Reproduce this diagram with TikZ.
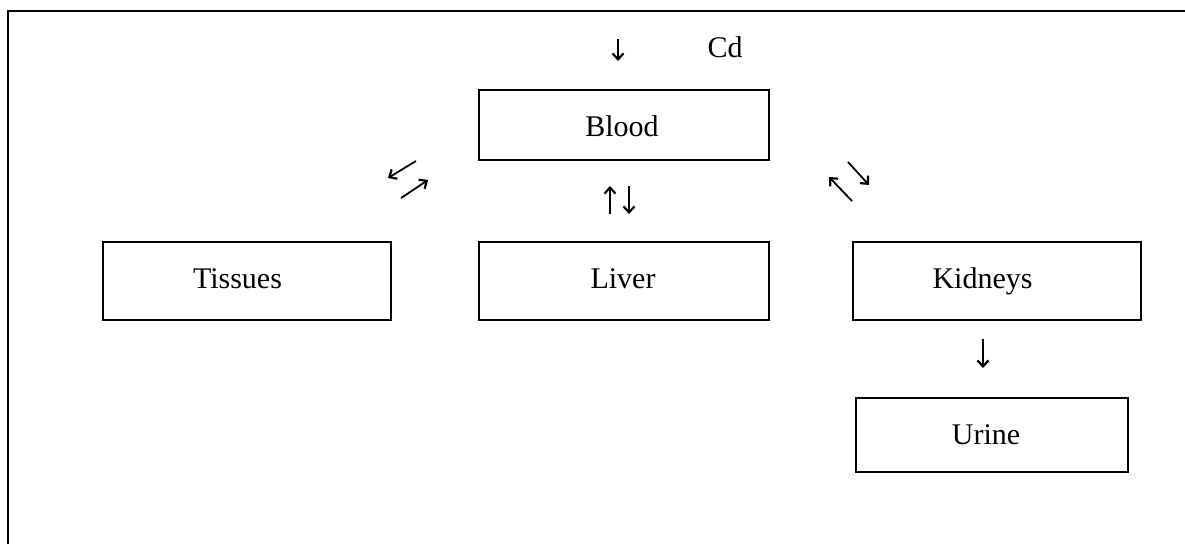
\documentclass[tikz,border=0pt]{standalone}
\usepackage{fontspec}
\setmainfont{Liberation Serif}
\usetikzlibrary{arrows.meta}
\begin{document}
\begin{tikzpicture}[x=1pt,y=-1pt,
  organ/.style={draw,line width=1.7pt,inner sep=0pt,anchor=north west},
  word/.style={inner sep=0pt,anchor=base,font=\fontsize{30}{36}\selectfont},
  flow/.style={line width=1.8pt,-{Straight Barb[length=6pt,width=11pt,line width=2.2pt]}}]
\useasboundingbox (0,0) rectangle (1185,544);
% page frame (top and left edge)
\draw[line width=2.4pt] (8,544) -- (8,11) -- (1185,11);
% compartments
\node[organ,minimum width=290pt,minimum height=70pt] (blood) at (478,89) {};
\node[organ,minimum width=288pt,minimum height=78pt] (tissues) at (102,241) {};
\node[organ,minimum width=290pt,minimum height=78pt] (liver) at (478,241) {};
\node[organ,minimum width=288pt,minimum height=78pt] (kidneys) at (852,241) {};
\node[organ,minimum width=272pt,minimum height=74pt] (urine) at (855,397) {};
% labels
\node[word] (tBlood) at (622,136) {Blood};
\node[word] (tTissues) at (237.5,288) {Tissues};
\node[word] (tLiver) at (623,288) {Liver};
\node[word] (tKidneys) at (982.5,288) {Kidneys};
\node[word] (tUrine) at (986,444) {Urine};
\node[word] (tCd) at (725,57) {Cd};
% arrow end points
\coordinate (inA) at (618,39);   \coordinate (inB) at (618,61);
\coordinate (luA) at (610,214);  \coordinate (luB) at (610,186);
\coordinate (ldA) at (629,186);  \coordinate (ldB) at (629,214);
\coordinate (tbA) at (416,161);  \coordinate (tbB) at (388,178);
\coordinate (btA) at (401,198);  \coordinate (btB) at (428,180);
\coordinate (kbA) at (852,201);  \coordinate (kbB) at (829,177);
\coordinate (bkA) at (848,162);  \coordinate (bkB) at (869,185);
\coordinate (kuA) at (983,339);  \coordinate (kuB) at (983,368);
% exchange arrows
\draw[flow] (inA) -- (inB);
\draw[flow] (luA) -- (luB);
\draw[flow] (ldA) -- (ldB);
\draw[flow] (tbA) -- (tbB);
\draw[flow] (btA) -- (btB);
\draw[flow] (kbA) -- (kbB);
\draw[flow] (bkA) -- (bkB);
\draw[flow] (kuA) -- (kuB);
\end{tikzpicture}
\end{document}
